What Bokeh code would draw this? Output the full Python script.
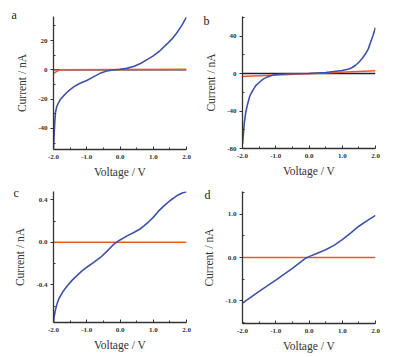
from bokeh.plotting import figure
from bokeh.layouts import gridplot
from bokeh.models import Range1d, FixedTicker
from bokeh.embed import file_html
from bokeh.resources import INLINE

# ---- data ----
va = [-2.0, -1.98, -1.96, -1.94, -1.9, -1.85, -1.8, -1.7, -1.6, -1.5, -1.35, -1.2, -1.0, -0.8, -0.6, -0.4, -0.2, 0.0, 0.2, 0.43, 0.63, 0.8, 1.0, 1.2, 1.43, 1.6, 1.7, 1.85, 2.0]
ia = [-54.0, -44.0, -35.0, -29.0, -25.0, -22.5, -20.5, -17.8, -15.5, -13.5, -11.0, -9.2, -7.3, -4.8, -2.4, -0.8, -0.1, 0.4, 1.0, 2.4, 4.5, 6.8, 9.5, 13.0, 18.0, 22.0, 25.0, 30.0, 36.0]
ra_v = [-2.0, -1.9, -1.8, 0.0, 2.0]
ra_i = [-2.4, -1.0, 0.0, 0.2, 0.4]

vb = [-2.0, -1.97, -1.95, -1.9, -1.85, -1.78, -1.7, -1.6, -1.5, -1.38, -1.25, -1.1, -1.0, -0.5, 0.0, 0.5, 1.0, 1.2, 1.3, 1.4, 1.5, 1.6, 1.7, 1.78, 1.85, 1.92, 2.0]
ib = [-75.0, -64.0, -54.0, -41.0, -33.0, -24.0, -18.5, -13.0, -9.6, -6.0, -3.6, -1.8, -1.0, -0.3, 0.0, 1.0, 3.2, 4.8, 6.4, 8.8, 12.0, 16.0, 21.0, 26.0, 33.0, 40.0, 49.0]
rb_v = [-2.0, 2.0]
rb_i = [-3.2, 2.9]

vc = [-2.0, -1.98, -1.95, -1.9, -1.84, -1.72, -1.59, -1.45, -1.29, -1.15, -1.0, -0.8, -0.58, -0.38, -0.18, 0.0, 0.2, 0.43, 0.6, 0.73, 0.87, 1.0, 1.15, 1.33, 1.5, 1.63, 1.75, 1.87, 2.0]
ic = [-0.75, -0.70, -0.645, -0.585, -0.53, -0.465, -0.41, -0.36, -0.31, -0.27, -0.234, -0.19, -0.14, -0.08, -0.016, 0.022, 0.058, 0.094, 0.125, 0.156, 0.195, 0.234, 0.29, 0.344, 0.39, 0.42, 0.445, 0.463, 0.475]

vd = [-2.0, -1.5, -1.0, -0.5, -0.1, 0.0, 0.25, 0.5, 0.75, 1.0, 1.25, 1.5, 1.75, 2.0]
id_ = [-1.05, -0.78, -0.52, -0.25, -0.015, 0.02, 0.10, 0.18, 0.28, 0.41, 0.56, 0.72, 0.85, 0.97]

x_ticks = [-2.0, -1.0, 0.0, 1.0, 2.0]
x_labels = {-2.0: "-2.0", -1.0: "-1.0", 0.0: "0.0", 1.0: "1.0", 2.0: "2.0"}

BLUE = "#3f52a8"
RED = "#ec5a2c"
FONT = "Liberation Serif"


def make_panel(letter, yr, yticks, ylabels, blue_v, blue_i, red_v, red_i, black_zero,
               width, left, top, frame_h, bottom, title_offset, title_standoff):
    height = top + frame_h + bottom
    p = figure(width=width, height=height, output_backend="svg",
               toolbar_location=None, x_range=Range1d(-2.0, 2.0),
               y_range=Range1d(*yr), min_border_left=left,
               min_border_right=width - left - 133,
               min_border_top=top, min_border_bottom=bottom,
               title=letter)
    p.frame_width = 133
    p.frame_height = frame_h
    p.outline_line_color = None
    p.grid.visible = False

    p.title.align = "left"
    p.title.offset = title_offset
    p.title.standoff = title_standoff
    p.title.text_font = FONT
    p.title.text_font_size = "12px"
    p.title.text_font_style = "normal"
    p.title.text_color = "#222222"

    step = yticks[1] - yticks[0]
    minors = [t + step / 2 for t in yticks] + [yticks[0] - step / 2]
    p.xaxis.ticker = FixedTicker(ticks=x_ticks, minor_ticks=[-1.5, -0.5, 0.5, 1.5])
    p.xaxis.major_label_overrides = x_labels
    p.yaxis.ticker = FixedTicker(ticks=yticks, minor_ticks=minors)
    p.yaxis.major_label_overrides = ylabels
    for ax in (p.xaxis, p.yaxis):
        ax.axis_line_color = "#333333"
        ax.axis_line_width = 1.3
        ax.major_tick_line_color = "#333333"
        ax.minor_tick_line_color = "#333333"
        ax.major_label_text_font = FONT
        ax.major_label_text_font_size = "7px"
        ax.major_label_text_font_style = "bold"
        ax.major_label_text_color = "#333333"
        ax.axis_label_text_font = FONT
        ax.axis_label_text_font_size = "11.5px"
        ax.axis_label_text_font_style = "normal"
        ax.axis_label_text_color = "#333333"
    p.xaxis.major_tick_in = 3
    p.xaxis.major_tick_out = 0
    p.xaxis.minor_tick_in = 2
    p.xaxis.minor_tick_out = 0
    p.xaxis.major_label_standoff = 5
    p.xaxis.axis_label_standoff = 4
    p.yaxis.major_tick_in = 0
    p.yaxis.major_tick_out = 3
    p.yaxis.minor_tick_in = 2
    p.yaxis.minor_tick_out = 0
    p.yaxis.major_label_standoff = 3
    p.yaxis.axis_label_standoff = 7
    p.xaxis.axis_label = "Voltage / V"
    p.yaxis.axis_label = "Current / nA"

    if black_zero:
        p.line([-2.0, 2.0], [0, 0], line_color="#222222", line_width=1.3)
    p.line(red_v, red_i, line_color=RED, line_width=1.4)
    p.line(blue_v, blue_i, line_color=BLUE, line_width=1.6)
    return p


pa = make_panel("a", (-54.4, 36.4), [-40, -20, 0, 20], {-40: "-40", -20: "-20", 0: "0", 20: "20"},
                va, ia, ra_v, ra_i, True, 200, 53, 15, 133, 32, -42, -11)
pb = make_panel("b", (-80, 60.8), [-80, -40, 0, 40], {-80: "-80", -40: "-40", 0: "0", 40: "40"},
                vb, ib, rb_v, rb_i, True, 195, 37, 16, 132, 32, -39, -22)
pc = make_panel("c", (-0.753, 0.477), [-0.4, 0.0, 0.4], {-0.4: "-0.4", 0.0: "0.0", 0.4: "0.4"},
                vc, ic, [-2.0, 2.0], [0.0, 0.0], False, 200, 53, 11, 131, 27, -40, -17)
pd = make_panel("d", (-1.52, 1.52), [-1.0, 0.0, 1.0], {-1.0: "-1.0", 0.0: "0.0", 1.0: "1.0"},
                vd, id_, [-2.0, 2.0], [0.0, 0.0], False, 195, 37, 10, 132, 27, -38, -21)

grid = gridplot([[pa, pb], [pc, pd]], toolbar_location=None)
open("out.html", "w").write(file_html(grid, INLINE))
